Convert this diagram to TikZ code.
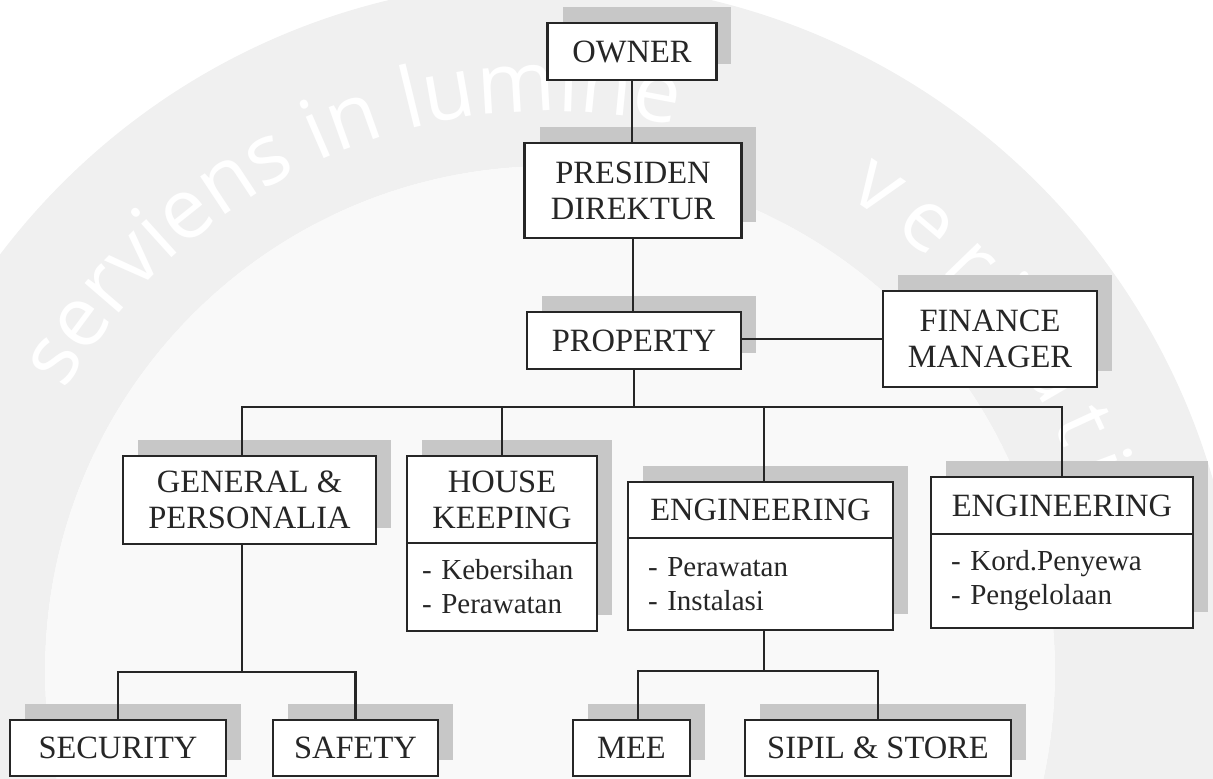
\documentclass[tikz,border=0pt]{standalone}
\usepackage{fontspec}
\setmainfont{Liberation Serif}
\newfontfamily\wmfont{Open Sans}
\usetikzlibrary{positioning,decorations.text,backgrounds}

\tikzset{
  box/.style={draw=black!85, line width=1.2pt, fill=white, text=black!85, inner sep=0pt,
    outer sep=0pt, font=\fontsize{18.5}{20.5}\selectfont, align=center},
  listbox/.style={box, align=left, inner xsep=0.4cm, font=\fontsize{16.5}{19.4}\selectfont},
  boxshadow/.style={fill=black!22},
  link/.style={draw=black!85, line width=1.2pt},
  wmtext/.style={decorate, decoration={text along path, text color=white, #1}},
}

\begin{document}
\begin{tikzpicture}[x=0.02cm, y=-0.02cm]
\useasboundingbox (0,0) rectangle (1213,778);

% top of the chart
\node[box, minimum width=3.38cm, minimum height=1.14cm] (owner) at (632,51.5) {OWNER};
\node[box, minimum width=4.34cm, minimum height=1.90cm] (pres) at (633,190.5) {PRESIDEN\\DIREKTUR};
\node[box, minimum width=4.28cm, minimum height=1.14cm] (prop) at (634,340.5) {PROPERTY};
\node[box, minimum width=4.28cm, minimum height=1.92cm] (fin) at (990,339) {FINANCE\\MANAGER};

% departments
\node[box, minimum width=5.06cm, minimum height=1.76cm] (gen) at (249.5,500) {GENERAL \&\\PERSONALIA};
\node[box, minimum width=3.80cm, minimum height=1.74cm] (hk) at (502,499.5) {HOUSE\\KEEPING};
\node[listbox, inner xsep=0.3cm, text width=3.2cm, minimum height=1.76cm, below=0pt of hk] (hkList) {- Kebersihan\\- Perawatan};
\node[box, minimum width=5.30cm, minimum height=1.12cm] (eng) at (760.5,510) {ENGINEERING};
\node[listbox, text width=4.5cm, minimum height=1.84cm, below=0pt of eng] (engList) {- Perawatan\\- Instalasi};
\node[box, minimum width=5.24cm, minimum height=1.14cm] (engB) at (1062,505.5) {ENGINEERING};
\node[listbox, text width=4.44cm, minimum height=1.88cm, below=0pt of engB] (engBList) {- Kord.Penyewa\\- Pengelolaan};

% bottom row
\node[box, minimum width=4.32cm, minimum height=1.12cm] (sec) at (118,748) {SECURITY};
\node[box, minimum width=3.30cm, minimum height=1.12cm] (saf) at (355.5,748) {SAFETY};
\node[box, minimum width=2.34cm, minimum height=1.12cm] (mee) at (631.5,748) {MEE};
\node[box, minimum width=5.32cm, minimum height=1.12cm] (sipil) at (878,748) {SIPIL \& STORE};

% connectors
\coordinate (bar) at (0,407);
\coordinate (subA) at (0,672);
\coordinate (subB) at (0,671);
\draw[link] (owner.south) -- (owner.south |- pres.north);
\draw[link] (pres.south) -- (pres.south |- prop.north);
\draw[link] (fin.west) -- (fin.west -| prop.east);
\draw[link] (prop.south) -- (prop.south |- bar);
\draw[link] ([xshift=-0.15cm]gen.north) |- (engB.north |- bar) -- (engB.north);
\draw[link] (hk.north) -- (hk.north |- bar);
\draw[link] ([xshift=0.07cm]eng.north) -- ([xshift=0.07cm]eng.north |- bar);
\draw[link] ([xshift=-0.15cm]gen.south) -- ([xshift=-0.15cm]gen.south |- subA);
\draw[link] (sec.north) |- (saf.north |- subA) -- (saf.north);
\draw[link] ([xshift=0.07cm]engList.south) -- ([xshift=0.07cm]engList.south |- subB);
\draw[link] ([xshift=0.13cm]mee.north) |- (sipil.north |- subB) -- (sipil.north);

\begin{scope}[on background layer]
  % watermark
  \clip (0,0) rectangle (1213,778);
  \coordinate (wm) at (550,671);
  \fill[black!6, even odd rule] (wm) circle[radius=13.8cm] (wm) circle[radius=10.1cm];
  \fill[black!2.5] (wm) circle[radius=10.1cm];
  \path[wmtext={text={|\wmfont\fontsize{48}{48}\selectfont|serviens in lumine}}]
    ([shift={(150:11.2cm)}]wm) arc[start angle=150, end angle=40, radius=11.2cm];
  \path[wmtext={text align={fit to path}, text={|\wmfont\fontsize{48}{48}\selectfont|veritatis}}]
    ([shift={(58:11.2cm)}]wm) arc[start angle=58, end angle=14, radius=11.2cm];
  % shadows
  \foreach \a/\b in {owner/owner, pres/pres, prop/prop, fin/fin, gen/gen, hkList/hk,
      engList/eng, engBList/engB, sec/sec, saf/saf, mee/mee, sipil/sipil}
    \fill[boxshadow] ([shift={(15,-16)}]\a.south west) rectangle ([shift={(15,-16)}]\b.north east);
\end{scope}
\end{tikzpicture}
\end{document}
